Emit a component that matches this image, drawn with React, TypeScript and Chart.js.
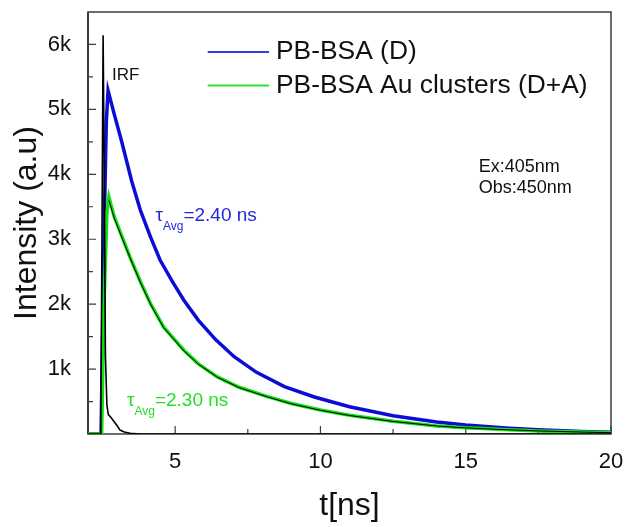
import { useEffect, useRef } from "react";
import { Chart, registerables } from "chart.js";

Chart.register(...registerables);

// ---- data ----
const blueT = [2.0, 2.45, 2.55, 2.63, 2.69, 2.9, 3.15, 3.5, 3.8, 4.15, 4.48, 4.9, 5.3, 5.8, 6.4, 7.03, 7.8, 8.76, 9.79, 11, 12.5, 14, 15, 16.5, 17.5, 19, 20];
const blueI = [0, 0, 3000, 4800, 5290, 4930, 4520, 3900, 3450, 3035, 2680, 2350, 2060, 1750, 1450, 1190, 950, 730, 570, 420, 280, 185, 140, 90, 65, 40, 28];

const greenT = [2.0, 2.47, 2.55, 2.65, 2.72, 2.9, 3.1, 3.44, 3.8, 4.15, 4.6, 5.3, 5.8, 6.45, 7.2, 8.18, 9, 10, 11, 12.5, 14, 15, 16.5, 17.5, 19, 20];
const greenI = [0, 0, 2000, 3400, 3650, 3350, 3120, 2730, 2350, 2010, 1650, 1290, 1080, 880, 720, 575, 470, 370, 290, 195, 125, 95, 65, 48, 30, 20];

const fitT = [2.72, 2.9, 3.1, 3.44, 3.8, 4.15, 4.6, 5.3, 5.8, 6.45, 7.2, 8.18, 9, 10, 11, 12.5, 14, 15, 16.5, 17.5, 19, 20];
const fitI = [3600, 3330, 3100, 2720, 2340, 2000, 1640, 1280, 1075, 875, 715, 570, 465, 365, 285, 193, 124, 94, 64, 47, 30, 20];

const irfT = [2.0, 2.44, 2.48, 2.52, 2.56, 2.6, 2.65, 2.7, 2.8, 2.9, 3.0, 3.1, 3.25, 3.45, 3.8, 20];
const irfI = [0, 0, 3000, 6140, 4000, 1200, 450, 300, 250, 190, 130, 60, 30, 12, 0, 0];

const seriesLabels = ["PB-BSA (D)", "PB-BSA Au clusters (D+A)", "IRF"];
const xMajor = [5, 10, 15, 20];
const xMinor = [7.5, 12.5, 17.5];
const yMajor = [1000, 2000, 3000, 4000, 5000, 6000];
const yMinor = [500, 1500, 2500, 3500, 4500, 5500];
const tauLabels = ["=2.40 ns", "=2.30 ns"];
const infoLines = ["Ex:405nm", "Obs:450nm"];

const BLUE = "#0c0cd6";
const GREEN = "#12e012";
const FONT = '"Liberation Sans", Arial, Helvetica, sans-serif';

const pts = (t: number[], v: number[]) => t.map((x, i) => ({ x, y: v[i] }));

const framePlugin = {
  id: "frameTicks",
  beforeDatasetsDraw(chart: any) {
    const { ctx, chartArea: a, scales } = chart;
    const x = scales.x;
    const y = scales.y;
    ctx.save();
    ctx.strokeStyle = "#3c3c3c";
    ctx.lineWidth = 1.5;
    ctx.strokeRect(a.left, a.top, a.right - a.left, a.bottom - a.top);
    ctx.beginPath();
    ctx.moveTo(a.left, a.top);
    ctx.lineTo(a.left, a.bottom);
    ctx.lineWidth = 2;
    ctx.stroke();
    ctx.lineWidth = 1.2;
    ctx.beginPath();
    xMajor.forEach((v) => {
      const p = x.getPixelForValue(v);
      ctx.moveTo(p, a.bottom);
      ctx.lineTo(p, a.bottom - 8);
    });
    xMinor.forEach((v) => {
      const p = x.getPixelForValue(v);
      ctx.moveTo(p, a.bottom);
      ctx.lineTo(p, a.bottom - 5);
    });
    yMajor.forEach((v) => {
      const p = y.getPixelForValue(v);
      ctx.moveTo(a.left, p);
      ctx.lineTo(a.left + 8, p);
    });
    yMinor.forEach((v) => {
      const p = y.getPixelForValue(v);
      ctx.moveTo(a.left, p);
      ctx.lineTo(a.left + 5, p);
    });
    ctx.stroke();
    ctx.restore();
  },
};

const textPlugin = {
  id: "texts",
  afterDatasetsDraw(chart: any) {
    const { ctx, scales } = chart;
    const x = scales.x;
    const y = scales.y;
    const X = (v: number) => x.getPixelForValue(v);
    const Y = (v: number) => y.getPixelForValue(v);
    ctx.save();

    // legend
    const rows = [
      { label: chart.data.datasets[0].label, color: "#3a3ae6", val: 5882 },
      { label: chart.data.datasets[1].label, color: "#30e030", val: 5369 },
    ];
    rows.forEach((r) => {
      const py = Y(r.val);
      ctx.strokeStyle = r.color;
      ctx.lineWidth = 2;
      ctx.beginPath();
      ctx.moveTo(X(6.12), py);
      ctx.lineTo(X(8.23), py);
      ctx.stroke();
      ctx.fillStyle = "#111";
      ctx.font = `26.4px ${FONT}`;
      ctx.textBaseline = "middle";
      ctx.textAlign = "left";
      ctx.fillText(r.label, X(8.47), py);
    });

    // IRF label
    ctx.fillStyle = "#111";
    ctx.font = `17px ${FONT}`;
    ctx.textBaseline = "middle";
    ctx.fillText(seriesLabels[2], X(2.83), Y(5523));

    // tau labels
    const drawTau = (tx: number, ty: number, rest: string, color: string) => {
      let px = X(tx);
      const py = Y(ty);
      ctx.fillStyle = color;
      ctx.textBaseline = "alphabetic";
      ctx.font = `19px ${FONT}`;
      ctx.fillText("τ", px, py);
      px += ctx.measureText("τ").width;
      ctx.font = `12px ${FONT}`;
      ctx.fillText("Avg", px, py + 9);
      px += ctx.measureText("Avg").width;
      ctx.font = `19px ${FONT}`;
      ctx.fillText(rest, px, py);
    };
    drawTau(4.32, 3277, tauLabels[0], "#2626de");
    drawTau(3.34, 438, tauLabels[1], "#26de26");

    // excitation / observation
    ctx.fillStyle = "#111";
    ctx.font = `18px ${FONT}`;
    ctx.textBaseline = "alphabetic";
    ctx.fillText(infoLines[0], X(15.45), Y(4035));
    ctx.fillText(infoLines[1], X(15.45), Y(3708));

    ctx.restore();
  },
};

export default function App() {
  const ref = useRef<HTMLCanvasElement | null>(null);

  useEffect(() => {
    if (!ref.current) return;
    const chart = new Chart(ref.current, {
      type: "line",
      data: {
        datasets: [
          {
            label: seriesLabels[0],
            data: pts(blueT, blueI),
            borderColor: BLUE,
            borderWidth: 3.5,
            pointRadius: 0,
            order: 3,
          },
          {
            label: seriesLabels[1],
            data: pts(greenT, greenI),
            borderColor: GREEN,
            borderWidth: 3.5,
            pointRadius: 0,
            order: 2,
          },
          {
            label: "fit",
            data: pts(fitT, fitI),
            borderColor: "#000",
            borderWidth: 1,
            pointRadius: 0,
            order: 1,
          },
          {
            label: seriesLabels[2],
            data: pts(irfT, irfI),
            borderColor: "#000",
            borderWidth: 1.6,
            pointRadius: 0,
            order: 0,
          },
        ],
      },
      options: {
        responsive: false,
        animation: false,
        parsing: false as any,
        layout: { padding: { top: 12, right: 21, left: 0, bottom: 0 } },
        plugins: { legend: { display: false }, tooltip: { enabled: false } },
        scales: {
          x: {
            type: "linear",
            min: 2,
            max: 20,
            grid: { display: false },
            border: { display: false },
            afterBuildTicks: (s: any) => {
              s.ticks = xMajor.map((v) => ({ value: v }));
            },
            afterFit: (s: any) => {
              s.height = 93;
              s.paddingLeft = 0;
              s.paddingRight = 0;
            },
            ticks: {
              padding: 7,
              color: "#111",
              font: { family: FONT, size: 22 },
              maxRotation: 0,
              autoSkip: false,
              callback: (v: any) => String(v),
            },
            title: {
              display: true,
              text: "t[ns]",
              color: "#111",
              font: { family: FONT, size: 32 },
              padding: { top: 0, bottom: 2 },
            },
          },
          y: {
            type: "linear",
            min: 0,
            max: 6500,
            grid: { display: false },
            border: { display: false },
            afterBuildTicks: (s: any) => {
              s.ticks = yMajor.map((v) => ({ value: v }));
            },
            afterFit: (s: any) => {
              s.width = 88;
              s.paddingTop = 0;
              s.paddingBottom = 0;
            },
            ticks: {
              padding: 9,
              color: "#111",
              font: { family: FONT, size: 22 },
              autoSkip: false,
              callback: (v: any) => `${Number(v) / 1000}k`,
            },
            title: {
              display: true,
              text: "Intensity (a.u)",
              color: "#111",
              font: { family: FONT, size: 32 },
              padding: { top: 8, bottom: 0 },
            },
          },
        },
      },
      plugins: [framePlugin, textPlugin],
    });
    return () => chart.destroy();
  }, []);

  return (
    <div style={{ position: "absolute", left: 0, top: 0, width: 632, height: 527, background: "#fff" }}>
      <canvas ref={ref} width={632} height={527} style={{ display: "block" }} />
    </div>
  );
}
